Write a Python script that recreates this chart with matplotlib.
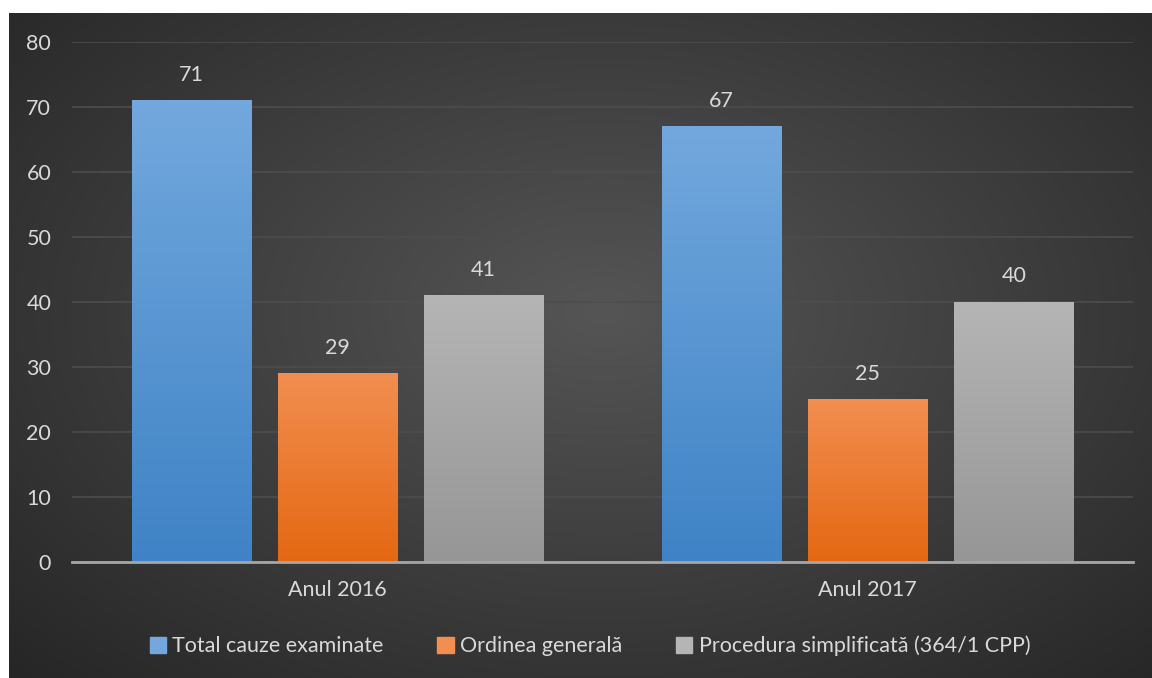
import numpy as np
import matplotlib
matplotlib.use("Agg")
import matplotlib.pyplot as plt
from matplotlib.colors import LinearSegmentedColormap

years = ["Anul 2016", "Anul 2017"]
series = ["Total cauze examinate", "Ordinea generală", "Procedura simplificată (364/1 CPP)"]
total = [71, 67]
ordinea = [29, 25]
simplificata = [41, 40]
values = [total, ordinea, simplificata]

# top colour, bottom colour for each series
grad = [("#72a8dd", "#3f83c6"), ("#f28e50", "#e46812"), ("#b5b5b5", "#969696")]
txt = "#d9d9d9"
fs = 15.5

plt.rcParams["font.family"] = ["Lato", "DejaVu Sans"]

fig = plt.figure(figsize=(11.52, 6.78), dpi=100, facecolor="white")

# radial gradient background
bg = fig.add_axes([9 / 1152, 0, 1 - 9 / 1152, 1 - 13 / 678])
bg.set_axis_off()
yy, xx = np.mgrid[0:1:300j, 0:1:500j]
r = np.sqrt(((xx - 0.52) / 0.75) ** 2 + ((yy - 0.55) / 0.8) ** 2)
r = np.clip(r, 0, 1)
bgcm = LinearSegmentedColormap.from_list("bg", ["#555555", "#262626"])
bg.imshow(r, cmap=bgcm, aspect="auto", extent=(0, 1, 0, 1), origin="lower")
bg.set_xlim(0, 1)
bg.set_ylim(0, 1)

ax = fig.add_axes([72 / 1152, 1 - 562 / 678, (1133 - 72) / 1152, (562 - 42) / 678])
ax.patch.set_alpha(0)

w = 0.2245
step = 0.2755
x = np.arange(len(years))
for i, vals in enumerate(values):
    cm = LinearSegmentedColormap.from_list("b%d" % i, [grad[i][1], grad[i][0]])
    for j, v in enumerate(vals):
        xc = x[j] + (i - 1) * step
        g = np.linspace(0, 1, 100).reshape(-1, 1)
        ax.imshow(g, cmap=cm, aspect="auto", origin="lower",
                  extent=(xc - w / 2, xc + w / 2, 0, v), zorder=3)
        ax.text(xc, v + 2.4, str(v), ha="center", va="bottom", color=txt, fontsize=fs, zorder=4)

ax.set_xlim(-0.5, 1.5)
ax.set_ylim(0, 80)
ax.set_yticks(range(0, 81, 10))
ax.set_xticks(x)
ax.set_xticklabels(years)
ax.tick_params(axis="both", length=0, colors=txt, labelsize=fs)
ax.tick_params(axis="y", pad=15)
ax.tick_params(axis="x", pad=13)
ax.grid(axis="y", color="#4d4d4d", linewidth=1.2, zorder=0)
ax.set_axisbelow(True)
for s in ["top", "right", "left"]:
    ax.spines[s].set_visible(False)
ax.spines["bottom"].set_color("#a6a6a6")
ax.spines["bottom"].set_linewidth(2)
ax.spines["bottom"].set_zorder(5)

handles = [plt.Rectangle((0, 0), 1, 1, color=grad[i][0]) for i in range(3)]
fig.legend(handles, series, loc="center", bbox_to_anchor=(590 / 1152, 1 - 646 / 678),
           ncol=3, frameon=False, fontsize=fs, labelcolor=txt, handlelength=0.75,
           handleheight=0.75, handletextpad=0.3, columnspacing=2.5)

fig.savefig("out.png", dpi=100, facecolor="white")
